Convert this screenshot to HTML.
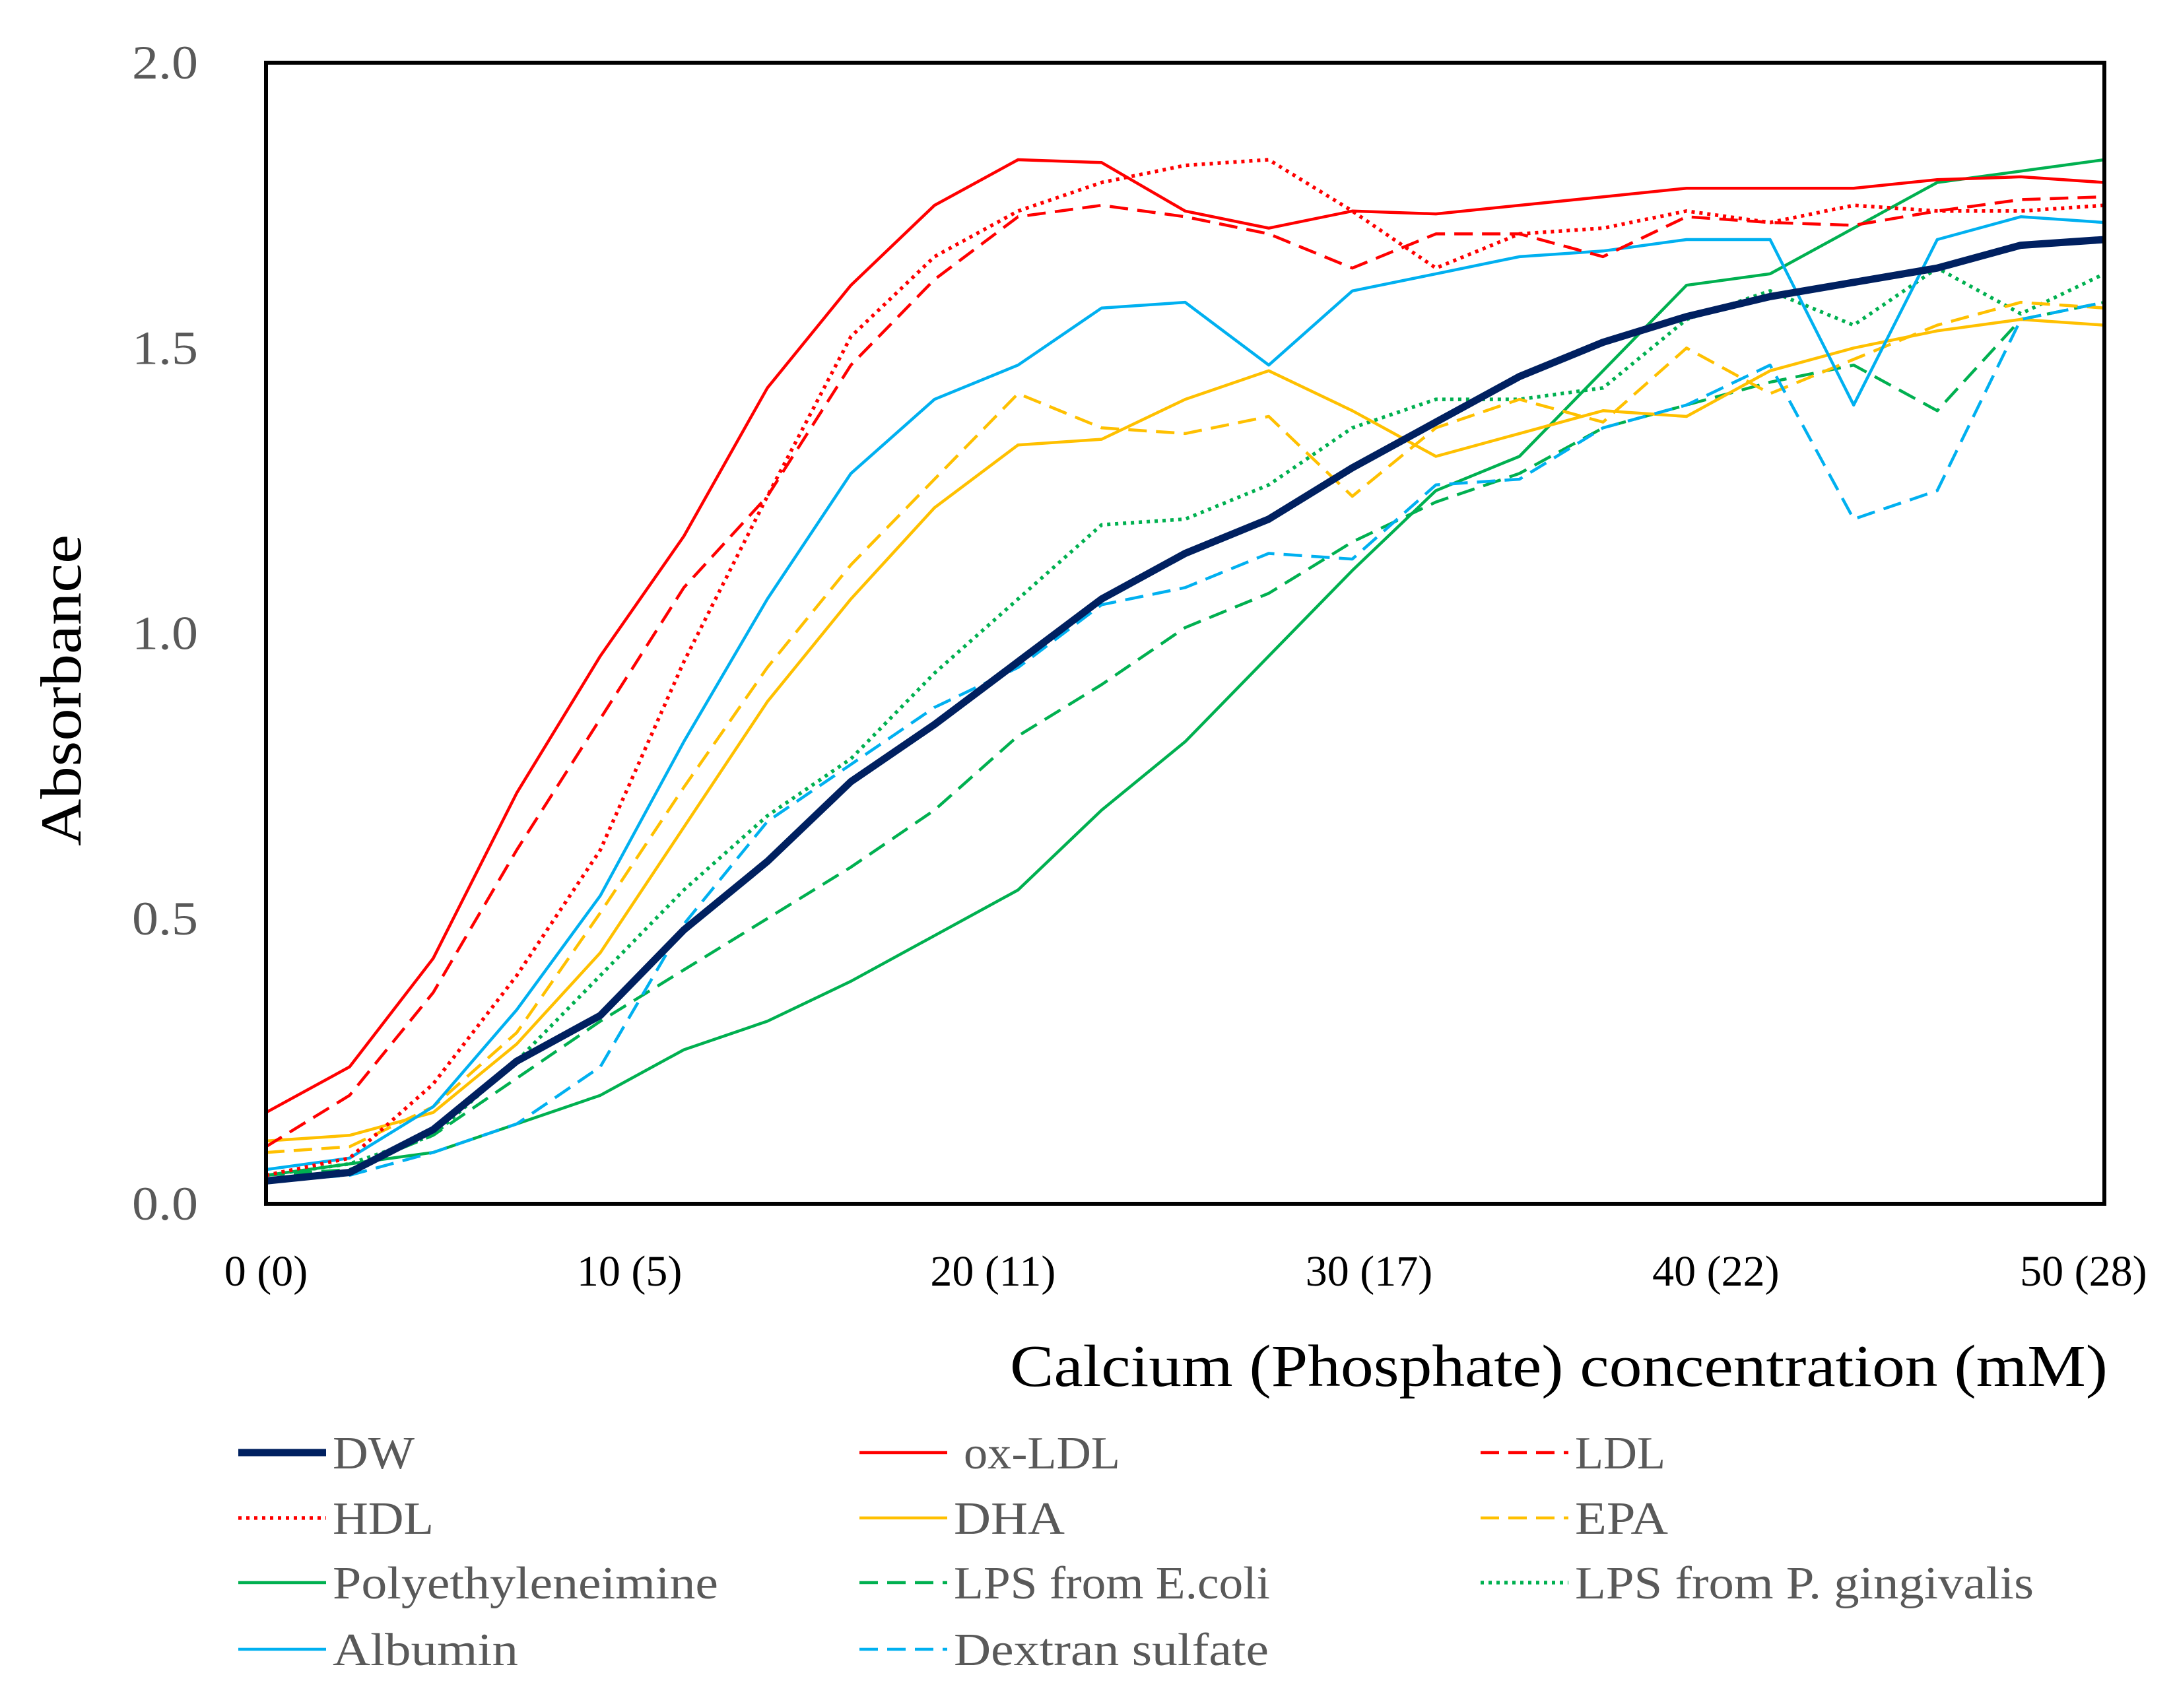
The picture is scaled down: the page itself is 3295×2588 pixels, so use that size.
<!DOCTYPE html>
<html><head><meta charset="utf-8"><style>
html,body{margin:0;padding:0;background:#fff}
svg{display:block}
text{font-family:"Liberation Serif",serif}
</style></head><body>
<svg id="chart" width="3295" height="2588" viewBox="0 0 3295 2588" xmlns="http://www.w3.org/2000/svg">
<g id="plot"></g>
<rect x="403" y="95" width="2785" height="1729" fill="none" stroke="#000" stroke-width="6"/>
<g id="yticks"></g>
<g id="xticks"></g>
<text transform="translate(122,1046) rotate(-90)" text-anchor="middle" font-size="88" fill="#000" textLength="472" lengthAdjust="spacingAndGlyphs">Absorbance</text>
<text x="1530" y="2100" font-size="90" fill="#000" textLength="1663" lengthAdjust="spacingAndGlyphs">Calcium (Phosphate) concentration (mM)</text>
<g id="legend"></g>
</svg>
<script>
const xCount = 23;
const yTicks = [0, 0.5, 1.0, 1.5, 2.0];
const yTickLabels = ["0.0", "0.5", "1.0", "1.5", "2.0"];
const xTickLabels = ["0 (0)", "10 (5)", "20 (11)", "30 (17)", "40 (22)", "50 (28)"];
const xTickIdx = [0, 4.35, 8.7, 13.2, 17.35, 21.75];
const seriesNames = ["DW","ox-LDL","LDL","HDL","DHA","EPA","Polyethyleneimine","LPS from E.coli","LPS from P. gingivalis","Albumin","Dextran sulfate"];
const legendLens = [124,237,137,153,168,141,584,479,695,281,477];
const dw = [.04,.055,.13,.25,.33,.48,.6,.74,.84,.95,1.06,1.14,1.2,1.29,1.37,1.45,1.51,1.555,1.59,1.615,1.64,1.68,1.69];
const oxldl = [.16,.24,.43,.72,.96,1.17,1.43,1.61,1.75,1.83,1.825,1.74,1.71,1.74,1.735,1.75,1.765,1.78,1.78,1.78,1.795,1.8,1.79];
const ldl = [.1,.19,.37,.62,.85,1.08,1.24,1.47,1.62,1.73,1.75,1.73,1.7,1.64,1.7,1.7,1.66,1.73,1.72,1.715,1.74,1.76,1.765];
const hdl = [.05,.08,.21,.4,.62,.95,1.24,1.52,1.66,1.74,1.79,1.82,1.83,1.74,1.64,1.7,1.71,1.74,1.72,1.75,1.74,1.74,1.75];
const dha = [.11,.12,.16,.28,.44,.66,.88,1.06,1.22,1.33,1.34,1.41,1.46,1.39,1.31,1.35,1.39,1.38,1.46,1.5,1.53,1.55,1.54];
const epa = [.09,.1,.17,.3,.51,.73,.94,1.12,1.27,1.42,1.36,1.35,1.38,1.24,1.36,1.41,1.37,1.5,1.42,1.48,1.54,1.58,1.57];
const pei = [.05,.07,.09,.14,.19,.27,.32,.39,.47,.55,.69,.81,.96,1.11,1.25,1.31,1.46,1.61,1.63,1.71,1.79,1.81,1.83];
const lpsEcoli = [.05,.06,.12,.22,.32,.41,.5,.59,.69,.82,.91,1.01,1.07,1.16,1.23,1.28,1.36,1.4,1.44,1.47,1.39,1.55,1.58];
const lpsPg = [.05,.07,.12,.25,.4,.55,.68,.78,.93,1.06,1.19,1.2,1.26,1.36,1.41,1.41,1.43,1.55,1.6,1.54,1.64,1.56,1.63];
const albumin = [.06,.08,.17,.34,.54,.81,1.06,1.28,1.41,1.47,1.57,1.58,1.47,1.6,1.63,1.66,1.67,1.69,1.69,1.4,1.69,1.73,1.72];
const dextran = [.04,.05,.09,.14,.24,.49,.67,.77,.87,.94,1.05,1.08,1.14,1.13,1.26,1.27,1.36,1.4,1.47,1.2,1.25,1.55,1.58];

const NS='http://www.w3.org/2000/svg';
const L=403,R=3188,T=95,B=1824;
function xs(i){return L+(R-L)*i/(xCount-1);}
function ys(v){return B-(B-T)*v/2.0;}
const styles=[
 {d:dw,c:"#002060",w:11,da:""},
 {d:oxldl,c:"#FF0000",w:4.5,da:""},
 {d:ldl,c:"#FF0000",w:4.5,da:"28,14"},
 {d:hdl,c:"#FF0000",w:5.5,da:"5,7"},
 {d:dha,c:"#FFC000",w:4.5,da:""},
 {d:epa,c:"#FFC000",w:4.5,da:"28,14"},
 {d:pei,c:"#00B050",w:4.5,da:""},
 {d:lpsEcoli,c:"#00B050",w:4.5,da:"28,14"},
 {d:lpsPg,c:"#00B050",w:5.5,da:"5,7"},
 {d:albumin,c:"#00B0F0",w:4.5,da:""},
 {d:dextran,c:"#00B0F0",w:4.5,da:"28,14"}
];
const plot=document.getElementById('plot');
const order=[6,7,8,4,5,9,10,3,2,1,0];
order.forEach(k=>{
 const s=styles[k];
 const p=document.createElementNS(NS,'polyline');
 p.setAttribute('points',s.d.map((v,i)=>xs(i).toFixed(1)+','+ys(v).toFixed(1)).join(' '));
 p.setAttribute('fill','none');p.setAttribute('stroke',s.c);p.setAttribute('stroke-width',s.w);
 p.setAttribute('stroke-linejoin','round');
 if(s.da)p.setAttribute('stroke-dasharray',s.da);
 
 
 plot.appendChild(p);
});
const yg=document.getElementById('yticks');
yTicks.forEach((v,i)=>{
 const t=document.createElementNS(NS,'text');
 t.setAttribute('x',300);t.setAttribute('y',ys(v)+24);
 t.setAttribute('text-anchor','end');t.setAttribute('font-size','72');t.setAttribute('fill','#595959');
 t.setAttribute('textLength','100');t.setAttribute('lengthAdjust','spacingAndGlyphs');
 t.textContent=yTickLabels[i];
 
 
 yg.appendChild(t);
});
const xg=document.getElementById('xticks');
xTickLabels.forEach((lab,i)=>{
 const t=document.createElementNS(NS,'text');
 t.setAttribute('x',xs(xTickIdx[i]));t.setAttribute('y',1948);
 t.setAttribute('text-anchor','middle');t.setAttribute('font-size','66');t.setAttribute('fill','#000');
 t.textContent=lab;
 
 
 xg.appendChild(t);
});
const lg=document.getElementById('legend');
const colX=[361,1302,2243], rowY=[2201,2300,2398,2499];
seriesNames.forEach((n,k)=>{
 const s=styles[k], cx=colX[k%3], cy=rowY[Math.floor(k/3)];
 const ln=document.createElementNS(NS,'line');
 ln.setAttribute('x1',cx);ln.setAttribute('x2',cx+133);ln.setAttribute('y1',cy);ln.setAttribute('y2',cy);
 ln.setAttribute('stroke',s.c);ln.setAttribute('stroke-width',s.w);
 if(s.da)ln.setAttribute('stroke-dasharray',s.da);
 
 
 lg.appendChild(ln);
 const t=document.createElementNS(NS,'text');
 t.setAttribute('x',cx+143+(k===1?15:0));t.setAttribute('y',cy+24);
 t.setAttribute('font-size','70');t.setAttribute('fill','#595959');
 t.setAttribute('textLength',legendLens[k]);t.setAttribute('lengthAdjust','spacingAndGlyphs');
 t.textContent=n;
 
 
 lg.appendChild(t);
});
</script>
</body></html>
